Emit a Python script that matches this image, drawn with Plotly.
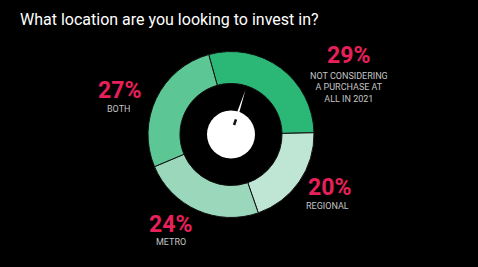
import math
import plotly.graph_objects as go

# ---- data ----
categories = ["NOT CONSIDERING<br>A PURCHASE AT<br>ALL IN 2021", "REGIONAL", "METRO", "BOTH"]
values = [29, 20, 24, 27]
pct_labels = ["29%", "20%", "24%", "27%"]
slice_colors = ["#2bb877", "#bfe6d4", "#9bd8bb", "#5cc694"]
title_text = "What location are you looking to invest in?"
needle_angle_deg = 18  # clockwise from 12 o'clock

# ---- layout constants (pixels) ----
W, H = 478, 267
cx, cy = 231, 134.5
R_out = 83
hole = 0.615
r_white = 24
pink = "#e8205a"
grey = "#c4c4c4"
FONT = "Roboto"


def px(x):
    return x / W


def py(y):
    return 1 - y / H


fig = go.Figure()
fig.add_trace(go.Pie(
    values=values,
    labels=categories,
    sort=False,
    direction="clockwise",
    rotation=-15.6,
    hole=hole,
    marker=dict(colors=slice_colors, line=dict(color="#111111", width=1)),
    textinfo="none",
    hoverinfo="skip",
    showlegend=False,
    domain=dict(x=[px(cx - R_out), px(cx + R_out)], y=[py(cy + R_out), py(cy - R_out)]),
))

shapes = []
# white centre disc
shapes.append(dict(type="circle", xref="paper", yref="paper",
                   x0=px(cx - r_white), x1=px(cx + r_white),
                   y0=py(cy + r_white), y1=py(cy - r_white),
                   fillcolor="white", line=dict(width=0), layer="above"))

# needle
a = math.radians(needle_angle_deg)
ux, uy = math.sin(a), -math.cos(a)
nx, ny = math.cos(a), math.sin(a)
r0, r1 = 11, 47
hw = 1.6
bx0, by0 = cx + ux * r0 + nx * hw, cy + uy * r0 + ny * hw
bx1, by1 = cx + ux * r0 - nx * hw, cy + uy * r0 - ny * hw
tx, ty = cx + ux * r1, cy + uy * r1
path = f"M {px(bx0)},{py(by0)} L {px(tx)},{py(ty)} L {px(bx1)},{py(by1)} Z"
shapes.append(dict(type="path", xref="paper", yref="paper", path=path,
                   fillcolor="white", line=dict(width=0), layer="above"))
# dark base of needle inside white disc
shapes.append(dict(type="line", xref="paper", yref="paper",
                   x0=px(cx + ux * 10), y0=py(cy + uy * 10),
                   x1=px(cx + ux * 16), y1=py(cy + uy * 16),
                   line=dict(color="#111111", width=2.5), layer="above"))

# label positions (pixel centres): percentage, sub text
label_pos = [
    ((348, 55), (349, 87)),
    ((329, 187), (327, 205)),
    ((170, 224), (171, 241)),
    ((119, 90), (118, 108)),
]
annotations = [dict(text=title_text, x=px(18), y=py(20), xref="paper", yref="paper",
                    xanchor="left", yanchor="middle", showarrow=False,
                    font=dict(family=FONT, size=16, color="white"))]
for cat, pl, ((x1, y1), (x2, y2)) in zip(categories, pct_labels, label_pos):
    nlines = cat.count("<br>") + 1
    annotations.append(dict(text=f"<b>{pl}</b>", x=px(x1), y=py(y1), xref="paper", yref="paper",
                            xanchor="center", yanchor="middle", showarrow=False, height=20,
                            font=dict(family=FONT, size=23, color=pink)))
    annotations.append(dict(text=cat, x=px(x2), y=py(y2), xref="paper", yref="paper",
                            xanchor="center", yanchor="middle", showarrow=False, align="center",
                            height=11 * nlines,
                            font=dict(family=FONT, size=9, color=grey)))

fig.update_layout(
    width=W, height=H,
    margin=dict(l=0, r=0, t=0, b=0),
    paper_bgcolor="black", plot_bgcolor="black",
    shapes=shapes, annotations=annotations,
)
fig.write_html("out.html")
